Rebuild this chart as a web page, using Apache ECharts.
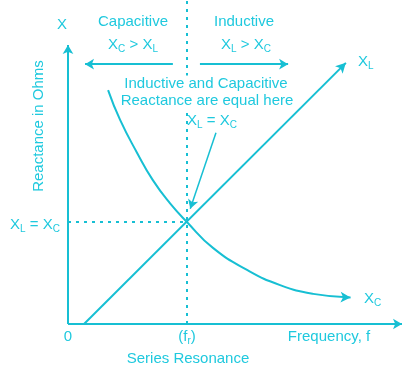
<!DOCTYPE html>
<html><head><meta charset="utf-8">
<script src="https://cdn.jsdelivr.net/npm/echarts@6/dist/echarts.min.js"></script>
<style>html,body{margin:0;padding:0;background:#fff}#c{width:419px;height:376px}</style>
</head><body><div id="c"></div>
<script>
// Data (x: frequency scale 0-100, y: reactance scale 0-100)
const xlPoints = [[4.8, 0], [83.2, 80.6]];
const xcPoints = [[12.0, 72.2], [15.6, 63.0], [20.7, 52.8], [25.4, 44.4], [30.5, 37.3], [35.6, 31.5], [43.4, 23.5], [53.6, 16.7], [63.5, 12.0], [73.4, 9.3], [84.6, 8.2]];
const resonance = [35.6, 31.5];
const axisEnds = { x: 100, y: 86.1 };
const regionArrowY = 80.2;
const capArrow = [31.4, 5.1];
const indArrow = [39.5, 65.9];
const pointer = [[44.3, 59.0], [36.6, 35.6]];

const LINE = '#17BFD3';
const TXT = '#1FC9DE';
const FONT = 'Liberation Sans, Arial, sans-serif';

const chart = echarts.init(document.getElementById('c'));
const arrowEnd = (a, b, extra) => [Object.assign({ coord: a, symbol: 'none' }, extra || {}), { coord: b, symbol: 'arrow', symbolSize: [8, 9] }];
const plain = (a, b, style) => [{ coord: a, symbol: 'none', lineStyle: style }, { coord: b, symbol: 'none' }];
const dotted = { type: [3, 5], width: 2, color: LINE };

function lastArrow(arr, rot) {
  return arr.map((p, i) => i === arr.length - 1 ? { value: p, symbol: 'arrow', symbolSize: [8, 10], symbolRotate: rot } : { value: p, symbol: 'none' });
}

const rich = {
  m: { fontSize: 15, fontFamily: FONT, color: TXT },
  s: { fontSize: 10, fontFamily: FONT, color: TXT, padding: [9, 0, 0, 0] }
};
function txt(x, y, text, align, extra, styleExtra) {
  return Object.assign({
    type: 'text', x: x, y: y, z: 100,
    style: Object.assign({ text: text, rich: rich, fill: TXT, font: '15px ' + FONT, align: align || 'center', verticalAlign: 'middle' }, styleExtra || {})
  }, extra || {});
}
const bg = { backgroundColor: '#fff', padding: [1, 0] };

chart.setOption({
  animation: false,
  grid: { left: 68, right: 17, top: 0, bottom: 52 },
  xAxis: { type: 'value', min: 0, max: 100, show: false },
  yAxis: { type: 'value', min: 0, max: 100, show: false },
  series: [
    {
      name: 'XL', type: 'line', data: lastArrow(xlPoints, -45), showSymbol: true, symbol: 'none',
      lineStyle: { color: LINE, width: 2 }, itemStyle: { color: LINE }, z: 3,
      markLine: {
        silent: true, animation: false, label: { show: false },
        lineStyle: { color: LINE, width: 2, type: 'solid' }, symbol: ['none', 'arrow'],
        data: [
          arrowEnd([0, 0], [0, axisEnds.y]),
          arrowEnd([0, 0], [axisEnds.x, 0]),
          plain([resonance[0], 0], [resonance[0], 100], dotted),
          plain([0, resonance[1]], [resonance[0], resonance[1]], dotted),
          arrowEnd([capArrow[0], regionArrowY], [capArrow[1], regionArrowY]),
          arrowEnd([indArrow[0], regionArrowY], [indArrow[1], regionArrowY]),
          arrowEnd(pointer[0], pointer[1], { lineStyle: { width: 1.5, color: LINE } })
        ]
      }
    },
    {
      name: 'XC', type: 'line', smooth: 0.5, data: lastArrow(xcPoints, -92), showSymbol: true, symbol: 'none',
      lineStyle: { color: LINE, width: 2 }, itemStyle: { color: LINE }, z: 3
    }
  ],
  graphic: [
    txt(62, 25, 'X'),
    txt(133, 22, 'Capacitive'),
    txt(133, 45, '{m|X}{s|C}{m| > X}{s|L}'),
    txt(244, 22, 'Inductive'),
    txt(246, 45, '{m|X}{s|L}{m| > X}{s|C}'),
    txt(358, 62, '{m|X}{s|L}', 'left'),
    txt(206, 84, 'Inductive and Capacitive', 'center', null, bg),
    txt(207, 101, 'Reactance are equal here', 'center', null, bg),
    txt(212, 121, '{m|X}{s|L}{m| = X}{s|C}'),
    txt(35, 225, '{m|X}{s|L}{m| = X}{s|C}'),
    txt(364, 299, '{m|X}{s|C}', 'left'),
    txt(68, 337, '0'),
    txt(187, 337, '{m|(f}{s|r}{m|)}'),
    txt(329, 337, 'Frequency, f'),
    txt(188, 359, 'Series Resonance'),
    txt(39, 126, 'Reactance in Ohms', 'center', { rotation: Math.PI / 2 })
  ]
});
</script></body></html>
